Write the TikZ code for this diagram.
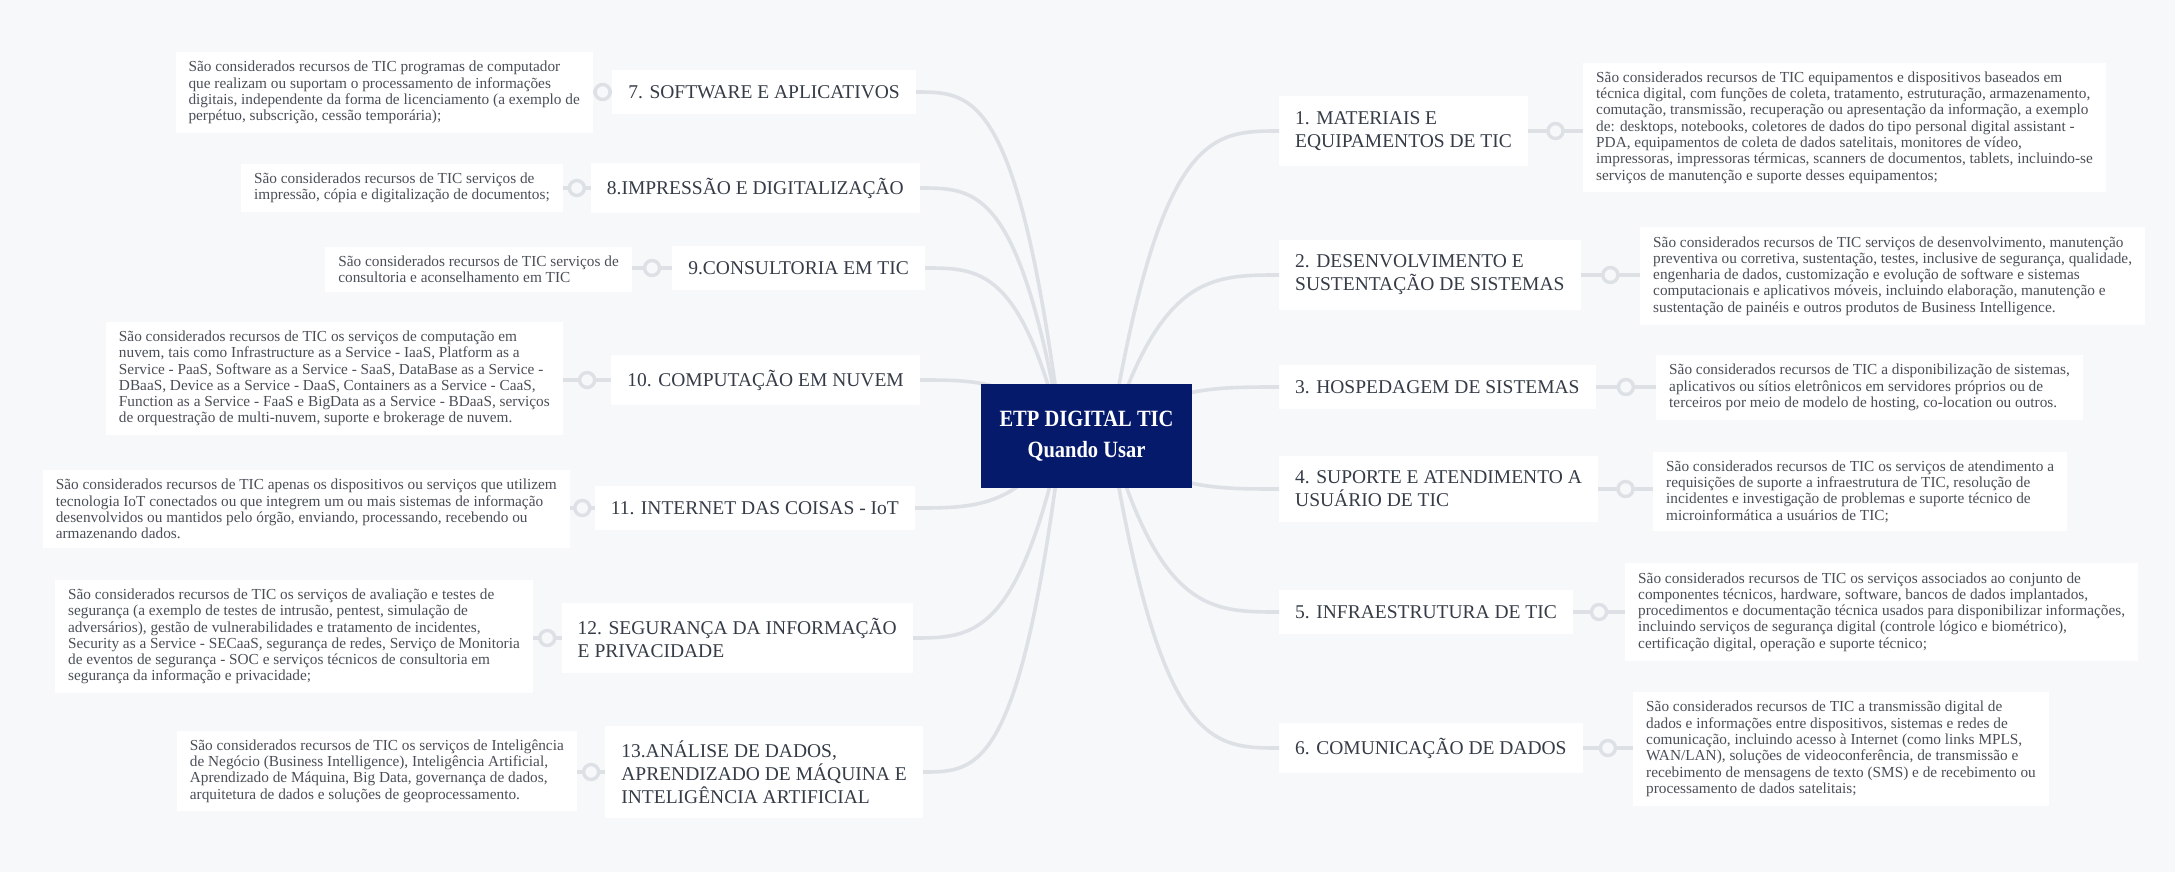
\documentclass[tikz,border=0pt]{standalone}
\usepackage{fontspec}
\setmainfont{Liberation Serif}
\newfontfamily\centerfont[FakeStretch=0.88]{Liberation Serif}
\usetikzlibrary{calc}
\definecolor{bgc}{HTML}{F6F8FA}
\definecolor{linec}{HTML}{DDE1E6}
\definecolor{navy}{HTML}{061A6C}
\definecolor{topictext}{HTML}{353C47}
\definecolor{desctext}{HTML}{4A4F57}
\newcommand{\branchcurve}[2]{\draw[branch] (#1) .. controls ($(#1 |- #2)!0.3!(#2)$) and ($(#1 |- #2)!0.6!(#2)$) .. (#2);}
\newcommand{\leafline}[3]{\draw[branch] (#1) -- (#2 |- #1);
  \node[ring] (#3) at ($(#1)!0.5!(#2 |- #1)$) {};}
\begin{document}
\begin{tikzpicture}[x=1pt,y=-1pt,
  branch/.style={draw=linec,line width=3.6pt},
  ring/.style={circle,draw=linec,fill=bgc,line width=3.4pt,minimum size=15pt,inner sep=0pt},
  topicbox/.style={fill=white,text=topictext,align=left,inner xsep=16pt,inner ysep=15pt,
    font=\fontsize{19.5}{23}\selectfont},
  descbox/.style={fill=white,text=desctext,align=left,inner xsep=13pt,inner ysep=9pt,
    font=\fontsize{15.3}{16.3}\selectfont},
  centerbox/.style={fill=navy,text=white,align=center,minimum width=211pt,minimum height=104pt,
    font=\centerfont\bfseries\fontsize{23.3}{31}\selectfont}
]
\fill[bgc] (0,0) rectangle (2175,872);
\useasboundingbox (0,0) rectangle (2175,872);

\coordinate (sR) at (1110,436);
\coordinate (sL) at (1062,436);

% right topics
\node[topicbox,anchor=west] (t1) at (1279,131) {1. MATERIAIS E\\EQUIPAMENTOS DE TIC};
\node[topicbox,anchor=west] (t2) at (1279,275) {2. DESENVOLVIMENTO E\\SUSTENTAÇÃO DE SISTEMAS};
\node[topicbox,anchor=west] (t3) at (1279,387) {3. HOSPEDAGEM DE SISTEMAS};
\node[topicbox,anchor=west] (t4) at (1279,489) {4. SUPORTE E ATENDIMENTO A\\USUÁRIO DE TIC};
\node[topicbox,anchor=west] (t5) at (1279,612) {5. INFRAESTRUTURA DE TIC};
\node[topicbox,anchor=west] (t6) at (1279,748) {6. COMUNICAÇÃO DE DADOS};

% left topics
\node[topicbox,anchor=east] (t7) at (916,92) {7. SOFTWARE E APLICATIVOS};
\node[topicbox,anchor=east] (t8) at (920,188) {8.IMPRESSÃO E DIGITALIZAÇÃO};
\node[topicbox,anchor=east] (t9) at (925,268) {9.CONSULTORIA EM TIC};
\node[topicbox,anchor=east] (t10) at (920,380) {10. COMPUTAÇÃO EM NUVEM};
\node[topicbox,anchor=east] (t11) at (915,508) {11. INTERNET DAS COISAS - IoT};
\node[topicbox,anchor=east] (t12) at (913,638) {12. SEGURANÇA DA INFORMAÇÃO\\E PRIVACIDADE};
\node[topicbox,anchor=east] (t13) at (923,772) {13.ANÁLISE DE DADOS,\\APRENDIZADO DE MÁQUINA E\\INTELIGÊNCIA ARTIFICIAL};

% descriptions right
\node[descbox,anchor=west] (d1) at (1583,127.5) {São considerados recursos de TIC equipamentos e dispositivos baseados em\\técnica digital, com funções de coleta, tratamento, estruturação, armazenamento,\\comutação, transmissão, recuperação ou apresentação da informação, a exemplo\\de: desktops, notebooks, coletores de dados do tipo personal digital assistant -\\PDA, equipamentos de coleta de dados satelitais, monitores de vídeo,\\impressoras, impressoras térmicas, scanners de documentos, tablets, incluindo-se\\serviços de manutenção e suporte desses equipamentos;};
\node[descbox,anchor=west] (d2) at (1640,276) {São considerados recursos de TIC serviços de desenvolvimento, manutenção\\preventiva ou corretiva, sustentação, testes, inclusive de segurança, qualidade,\\engenharia de dados, customização e evolução de software e sistemas\\computacionais e aplicativos móveis, incluindo elaboração, manutenção e\\sustentação de painéis e outros produtos de Business Intelligence.};
\node[descbox,anchor=west] (d3) at (1656,387.5) {São considerados recursos de TIC a disponibilização de sistemas,\\aplicativos ou sítios eletrônicos em servidores próprios ou de\\terceiros por meio de modelo de hosting, co-location ou outros.};
\node[descbox,anchor=west] (d4) at (1653,491.5) {São considerados recursos de TIC os serviços de atendimento a\\requisições de suporte a infraestrutura de TIC, resolução de\\incidentes e investigação de problemas e suporte técnico de\\microinformática a usuários de TIC;};
\node[descbox,anchor=west] (d5) at (1625,612) {São considerados recursos de TIC os serviços associados ao conjunto de\\componentes técnicos, hardware, software, bancos de dados implantados,\\procedimentos e documentação técnica usados para disponibilizar informações,\\incluindo serviços de segurança digital (controle lógico e biométrico),\\certificação digital, operação e suporte técnico;};
\node[descbox,anchor=west] (d6) at (1633,749) {São considerados recursos de TIC a transmissão digital de\\dados e informações entre dispositivos, sistemas e redes de\\comunicação, incluindo acesso à Internet (como links MPLS,\\WAN/LAN), soluções de videoconferência, de transmissão e\\recebimento de mensagens de texto (SMS) e de recebimento ou\\processamento de dados satelitais;};

% descriptions left
\node[descbox,anchor=east] (d7) at (593,92.5) {São considerados recursos de TIC programas de computador\\que realizam ou suportam o processamento de informações\\digitais, independente da forma de licenciamento (a exemplo de\\perpétuo, subscrição, cessão temporária);};
\node[descbox,anchor=east] (d8) at (563,188) {São considerados recursos de TIC serviços de\\impressão, cópia e digitalização de documentos;};
\node[descbox,anchor=east] (d9) at (632,269.5) {São considerados recursos de TIC serviços de\\consultoria e aconselhamento em TIC};
\node[descbox,anchor=east] (d10) at (563,378.5) {São considerados recursos de TIC os serviços de computação em\\nuvem, tais como Infrastructure as a Service - IaaS, Platform as a\\Service - PaaS, Software as a Service - SaaS, DataBase as a Service -\\DBaaS, Device as a Service - DaaS, Containers as a Service - CaaS,\\Function as a Service - FaaS e BigData as a Service - BDaaS, serviços\\de orquestração de multi-nuvem, suporte e brokerage de nuvem.};
\node[descbox,anchor=east] (d11) at (570,509) {São considerados recursos de TIC apenas os dispositivos ou serviços que utilizem\\tecnologia IoT conectados ou que integrem um ou mais sistemas de informação\\desenvolvidos ou mantidos pelo órgão, enviando, processando, recebendo ou\\armazenando dados.};
\node[descbox,anchor=east] (d12) at (533,636.5) {São considerados recursos de TIC os serviços de avaliação e testes de\\segurança (a exemplo de testes de intrusão, pentest, simulação de\\adversários), gestão de vulnerabilidades e tratamento de incidentes,\\Security as a Service - SECaaS, segurança de redes, Serviço de Monitoria\\de eventos de segurança - SOC e serviços técnicos de consultoria em\\segurança da informação e privacidade;};
\node[descbox,anchor=east] (d13) at (577,771) {São considerados recursos de TIC os serviços de Inteligência\\de Negócio (Business Intelligence), Inteligência Artificial,\\Aprendizado de Máquina, Big Data, governança de dados,\\arquitetura de dados e soluções de geoprocessamento.};

% branch curves (behind centre)
\branchcurve{sR}{t1.west}
\branchcurve{sR}{t2.west}
\branchcurve{sR}{t3.west}
\branchcurve{sR}{t4.west}
\branchcurve{sR}{t5.west}
\branchcurve{sR}{t6.west}
\branchcurve{sL}{t7.east}
\branchcurve{sL}{t8.east}
\branchcurve{sL}{t9.east}
\branchcurve{sL}{t10.east}
\branchcurve{sL}{t11.east}
\branchcurve{sL}{t12.east}
\branchcurve{sL}{t13.east}

% leaf connectors
\leafline{t1.east}{d1.west}{r1}
\leafline{t2.east}{d2.west}{r2}
\leafline{t3.east}{d3.west}{r3}
\leafline{t4.east}{d4.west}{r4}
\leafline{t5.east}{d5.west}{r5}
\leafline{t6.east}{d6.west}{r6}
\leafline{t7.west}{d7.east}{r7}
\leafline{t8.west}{d8.east}{r8}
\leafline{t9.west}{d9.east}{r9}
\leafline{t10.west}{d10.east}{r10}
\leafline{t11.west}{d11.east}{r11}
\leafline{t12.west}{d12.east}{r12}
\leafline{t13.west}{d13.east}{r13}

% centre
\node[centerbox] (c) at (1086.5,436) {ETP DIGITAL TIC\\Quando Usar};
\end{tikzpicture}
\end{document}
